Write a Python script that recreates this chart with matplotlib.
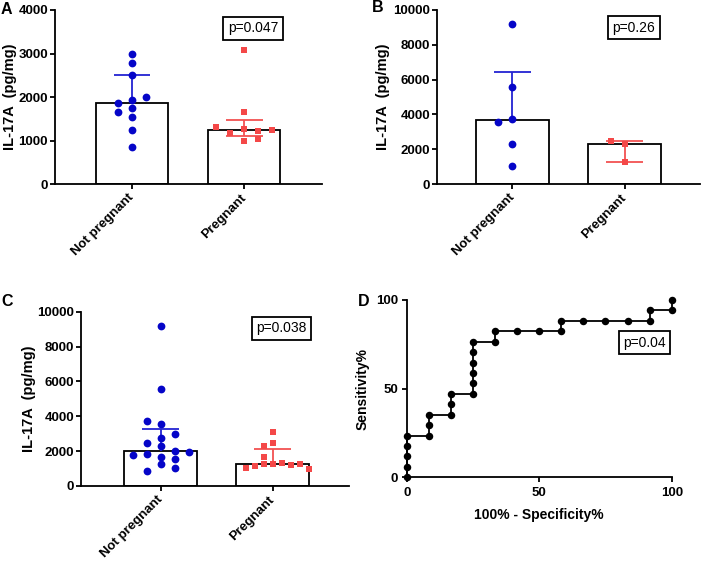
import numpy as np
import matplotlib
matplotlib.use("Agg")
import matplotlib.pyplot as plt

plt.rcParams['font.family'] = ['Liberation Sans', 'DejaVu Sans']

# ---------------- data ----------------
groups = ['Not pregnant', 'Pregnant']

# Panel A (order = order of entry, used by the point-spreading layout)
a_not_pregnant = [2990, 2780, 2495, 1935, 1755, 1250, 860, 1545, 1855, 1995, 1665]
a_pregnant = [3075, 1655, 1257, 1172, 1218, 1310, 1234, 981, 1034]
a_p = "p=0.047"

# Panel B
b_not_pregnant = [9200, 5550, 3750, 3560, 2320, 1020]
b_pregnant = [2299, 2490, 1247]
b_p = "p=0.26"

# Panel C (A and B pooled)
c_not_pregnant = [9200, 5550, 3560, 2780, 1665, 1250, 3750, 2990, 2495, 2320,
                  1995, 1855, 1935, 1755, 1545, 860, 1020]
c_pregnant = [3075, 2490, 2299, 1257, 1310, 1234, 1218, 1172, 1247, 1034, 981, 1655]
c_p = "p=0.038"

# Panel D (ROC curve)
roc_fpr = [0, 0, 0, 0, 0, 8.33, 8.33, 8.33, 16.67, 16.67, 16.67,
           25, 25, 25, 25, 25, 25, 33.33, 33.33, 41.67, 50, 58.33, 58.33,
           66.67, 75, 83.33, 91.67, 91.67, 100, 100]
roc_tpr = [0, 5.88, 11.76, 17.65, 23.53, 23.53, 29.41, 35.29, 35.29, 41.18, 47.06,
           47.06, 52.94, 58.82, 64.71, 70.59, 76.47, 76.47, 82.35, 82.35, 82.35, 82.35, 88.24,
           88.24, 88.24, 88.24, 88.24, 94.12, 94.12, 100]
d_p = "p=0.04"

# ---------------- style ----------------
BLUE = '#0505C8'
BLUE_ERR = '#2323D2'
RED = '#F44848'
RED_ERR = '#F25252'
LW = 1.3
TICK_FS = 9.5
LABEL_FS = 10.5

W, H = 701, 562
fig = plt.figure(figsize=(W / 100, H / 100), dpi=100)


def px_axes(left, top, right, bottom):
    return fig.add_axes([left / W, 1 - bottom / H, (right - left) / W, (bottom - top) / H])


def style_axes(ax):
    for s in ['top', 'right']:
        ax.spines[s].set_visible(False)
    for s in ['left', 'bottom']:
        ax.spines[s].set_linewidth(LW)
    ax.tick_params(direction='out', length=3.6, width=LW, labelsize=TICK_FS)
    for lab in ax.get_xticklabels() + ax.get_yticklabels():
        lab.set_fontweight('bold')


def swarm(ax, values, step_px, min_dy_px=7.0):
    yp = ax.transData.transform(np.column_stack([np.zeros(len(values)), values]))[:, 1]
    placed = []
    nl = nr = 0
    slots = []
    for y in yp:
        chosen = None
        for mag in range(0, 30):
            if mag == 0:
                cands = [0]
            else:
                cands = [-mag, mag] if nl <= nr else [mag, -mag]
            for c in cands:
                if all(not (s == c and abs(y - py) < min_dy_px) for s, py in placed):
                    chosen = c
                    break
            if chosen is not None:
                break
        placed.append((chosen, y))
        if chosen < 0:
            nl += 1
        elif chosen > 0:
            nr += 1
        slots.append(chosen)
    x0 = ax.transData.transform([[0, 0]])[0, 0]
    x1 = ax.transData.transform([[1, 0]])[0, 0]
    return np.array(slots) * step_px / (x1 - x0)


def bar_panel(ax, sets, ymax, ystep, xlim, ptext, pxy, ylab_off, steps, lowers):
    ax.set_xlim(*xlim)
    ax.set_ylim(0, ymax)
    ax.set_yticks(np.arange(0, ymax + 1, ystep))
    ax.set_xticks([0, 1])
    ax.set_xticklabels(groups, rotation=45, ha='right', va='center',
                       rotation_mode='anchor')
    style_axes(ax)
    ax.tick_params(axis='x', pad=5)
    ax.tick_params(axis='y', pad=1.5)
    specs = [(BLUE, BLUE_ERR, 'o', 5.6), (RED, RED_ERR, 's', 5.0)]
    for i, vals in enumerate(sets):
        vals = np.asarray(vals, dtype=float)
        col, ecol, mk, ms = specs[i]
        med = np.median(vals)
        q1, q3 = np.percentile(vals, [25, 75], method='weibull')
        ax.bar(i, med, width=0.65, color='white', edgecolor='black',
               linewidth=LW, zorder=1)
        lo = q1 if lowers[i] else med
        ax.vlines(i, lo, q3, color=ecol, lw=LW, zorder=2)
        ax.hlines(q3, i - 0.165, i + 0.165, color=ecol, lw=LW, zorder=2)
        if lowers[i]:
            ax.hlines(q1, i - 0.165, i + 0.165, color=ecol, lw=LW, zorder=2)
        offs = swarm(ax, vals, steps[i])
        ax.plot(i + offs, vals, linestyle='none', marker=mk, markersize=ms,
                color=col, markeredgewidth=0, zorder=3, clip_on=False)
    ax.text(pxy[0], pxy[1], ptext, fontsize=10, ha='center', va='center',
            bbox=dict(boxstyle='square,pad=0.32', fc='white', ec='black', lw=LW))
    ax.set_ylabel('IL-17A  (pg/mg)', fontsize=LABEL_FS, fontweight='bold', va='center')
    bb = ax.get_position()
    ax.yaxis.set_label_coords(-ylab_off / (bb.width * W), 0.5)


# Panel A
axA = px_axes(55, 10, 322, 184)
bar_panel(axA, [a_not_pregnant, a_pregnant], 4000, 1000, (-0.6875, 1.696),
          a_p, (1.08, 3575), 45, (14, 14), (False, True))

# Panel B
axB = px_axes(437, 10, 700, 184)
bar_panel(axB, [b_not_pregnant, b_pregnant], 10000, 2000, (-0.674, 1.674),
          b_p, (1.085, 8994), 54.5, (14, 14), (False, True))

# Panel C
axC = px_axes(81, 311.7, 349, 486)
bar_panel(axC, [c_not_pregnant, c_pregnant], 10000, 2000, (-0.712, 1.681),
          c_p, (1.08, 9048), 51.8, (14, 9), (False, False))

# Panel D
axD = px_axes(406.7, 300, 671.7, 477.3)
axD.set_xlim(0, 100)
axD.set_ylim(0, 100)
axD.set_xticks([0, 50, 100])
axD.set_yticks([0, 50, 100])
style_axes(axD)
axD.tick_params(axis='x', pad=3.5)
axD.tick_params(axis='y', pad=2.5)
axD.plot(roc_fpr, roc_tpr, color='black', lw=LW, marker='o', markersize=5.4,
         markeredgewidth=0, clip_on=False, zorder=3)
axD.text(89.7, 76, d_p, fontsize=10, ha='center', va='center',
         bbox=dict(boxstyle='square,pad=0.32', fc='white', ec='black', lw=LW))
axD.set_ylabel('Sensitivity%', fontsize=10, fontweight='bold', va='center')
axD.yaxis.set_label_coords(-43.7 / 265, 0.5)
axD.set_xlabel('100% - Specificity%', fontsize=10, fontweight='bold', va='center')
axD.xaxis.set_label_coords(0.5, -37.7 / 177.3)

# Panel letters
for letter, x, y in [('A', 1, 1.5), ('B', 371.5, 0.5), ('C', 1.5, 293.5), ('D', 358, 293.5)]:
    fig.text(x / W, 1 - y / H, letter, fontsize=11.5, fontweight='bold',
             ha='left', va='top')

fig.savefig('out.png', dpi=100)
